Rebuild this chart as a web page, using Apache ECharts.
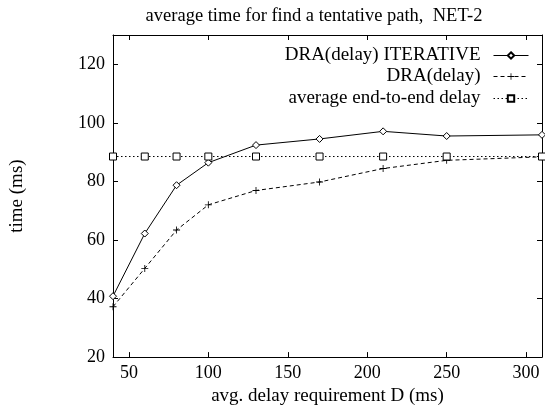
<!DOCTYPE html>
<html>
<head>
<meta charset="utf-8">
<script src="https://cdn.jsdelivr.net/npm/echarts@6/dist/echarts.min.js"></script>
<style>html,body{margin:0;padding:0;background:#fff}#c{width:545px;height:411px}</style>
</head>
<body>
<div id="c"></div>
<script>
const xValues = [40, 60, 80, 100, 130, 170, 210, 250, 310];
const iterative = [40.8, 62.2, 78.7, 86.4, 92.4, 94.5, 97.1, 95.5, 95.9];
const draDelay = [37.2, 50.3, 63.4, 72.0, 76.9, 79.8, 84.4, 87.2, 88.4];
const avgDelay = [88.5, 88.5, 88.5, 88.5, 88.5, 88.5, 88.5, 88.5, 88.5];
const seriesNames = ['DRA(delay) ITERATIVE', 'DRA(delay)', 'average end-to-end delay'];

const FONT = 'Liberation Serif';
const pair = arr => xValues.map((x, i) => [x, arr[i]]);
const plusPath = 'path://M4.4,0H5.6V4.4H10V5.6H5.6V10H4.4V5.6H0V4.4H4.4Z';

const chart = echarts.init(document.getElementById('c'), null, {renderer: 'canvas'});
const axisCommon = {
  axisLine: {show: true, lineStyle: {color: '#000', width: 1}},
  axisTick: {show: true, inside: true, length: 5, lineStyle: {color: '#000', width: 1}},
  splitLine: {show: false}
};
function legend(name, top) {
  return {
    data: [name], right: 16, top: top, align: 'right', orient: 'vertical',
    itemWidth: 35, itemHeight: 8, padding: 0,
    lineStyle: {width: 1},
    textStyle: {fontFamily: FONT, fontSize: 19, color: '#000', padding: [0, 8, 0, 0]},
    selectedMode: false
  };
}
chart.setOption({
  animation: false,
  title: {
    text: 'average time for find a tentative path,  NET-2',
    left: 309, top: 2, textAlign: 'center',
    textStyle: {fontFamily: FONT, fontSize: 18.5, fontWeight: 'normal', color: '#000'}
  },
  legend: [legend(seriesNames[0], 46), legend(seriesNames[1], 67), legend(seriesNames[2], 89)],
  grid: {left: 111, right: 2, top: 35, bottom: 50},
  xAxis: [
    Object.assign({}, axisCommon, {
      type: 'value', min: 40, max: 310, splitNumber: 5, position: 'bottom',
      name: 'avg. delay requirement D (ms)', nameLocation: 'middle', nameGap: 27,
      nameTextStyle: {fontFamily: FONT, fontSize: 19, color: '#000'},
      axisLabel: {fontFamily: FONT, fontSize: 18, color: '#000', margin: 7,
        formatter: v => (v % 50 === 0 ? String(v) : '')}
    }),
    Object.assign({}, axisCommon, {
      type: 'value', min: 40, max: 310, splitNumber: 5, position: 'top',
      axisLabel: {show: false}
    })
  ],
  yAxis: [
    Object.assign({}, axisCommon, {
      type: 'value', min: 20, max: 130, interval: 20, position: 'left',
      name: 'time (ms)', nameLocation: 'middle', nameRotate: 90, nameGap: 86,
      nameTextStyle: {fontFamily: FONT, fontSize: 19, color: '#000'},
      axisLabel: {fontFamily: FONT, fontSize: 18, color: '#000', margin: 8,
        formatter: v => (v <= 120 ? String(v) : '')}
    }),
    Object.assign({}, axisCommon, {
      type: 'value', min: 20, max: 130, interval: 20, position: 'right',
      axisLabel: {show: false}
    })
  ],
  series: [
    {
      name: seriesNames[0], type: 'line', data: pair(iterative),
      symbol: 'diamond', symbolSize: 7, showAllSymbol: true,
      lineStyle: {color: '#000', width: 1, type: 'solid'},
      itemStyle: {color: '#fff', borderColor: '#000', borderWidth: 1}
    },
    {
      name: seriesNames[1], type: 'line', data: pair(draDelay),
      symbol: plusPath, symbolSize: 7, showAllSymbol: true,
      lineStyle: {color: '#000', width: 1, type: [4, 3]},
      itemStyle: {color: '#000', borderWidth: 0}
    },
    {
      name: seriesNames[2], type: 'line', data: pair(avgDelay),
      symbol: 'rect', symbolSize: 7, showAllSymbol: true,
      lineStyle: {color: '#000', width: 1, type: [1.5, 2.5]},
      itemStyle: {color: '#fff', borderColor: '#000', borderWidth: 1}
    }
  ]
});
</script>
</body>
</html>
